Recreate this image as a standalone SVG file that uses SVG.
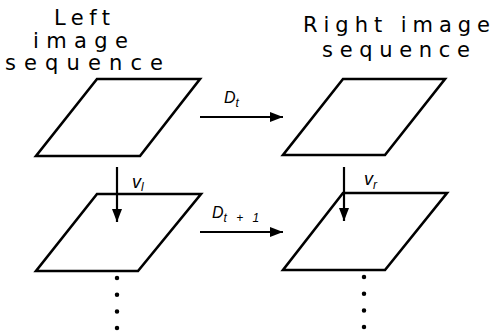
<svg xmlns="http://www.w3.org/2000/svg" width="493" height="333" viewBox="0 0 493 333">
<defs>
<style>
.frame{fill:none;stroke:#000;stroke-width:2.6;stroke-linejoin:miter}
.conn{fill:none;stroke:#000;stroke-width:2.2}
.dots{fill:none;stroke:#000;stroke-width:4.5;stroke-linecap:round;stroke-dasharray:0 16.7}
.title{font-family:"DejaVu Sans",Verdana,sans-serif;font-size:21px;fill:#000}
.lab{font-family:"Liberation Sans",Arial,sans-serif;font-style:italic;font-size:16px;fill:#000}
.vlab{font-family:"Liberation Sans",Arial,sans-serif;font-style:italic;font-size:18px;fill:#000}
.sub{font-family:"Liberation Sans",Arial,sans-serif;font-style:italic;font-size:12px;fill:#000}
</style>
<marker id="ah" viewBox="0 0 13 10" refX="13" refY="5" markerWidth="13" markerHeight="10" markerUnits="userSpaceOnUse" orient="auto">
<path d="M0,0 L13,5 L0,10 z" fill="#000"/>
</marker>
</defs>
<rect width="493" height="333" fill="#fff"/>
<g id="titles">
<text class="title" x="54" y="25" textLength="56" lengthAdjust="spacing">Left</text>
<text class="title" x="33" y="48" textLength="95" lengthAdjust="spacing">image</text>
<text class="title" x="5" y="70" textLength="158" lengthAdjust="spacing">sequence</text>
<text class="title" x="303" y="32" textLength="187" lengthAdjust="spacing">Right image</text>
<text class="title" x="322" y="57" textLength="148" lengthAdjust="spacing">sequence</text>
</g>
<g id="left-t">
<polygon class="frame" points="97,79 200,79 140,156 36,156"/>
</g>
<g id="right-t">
<polygon class="frame" points="343,79 445,79 385,155 283,155"/>
</g>
<g id="left-t1">
<polygon class="frame" points="97,194 201,194 138,271 36,271"/>
</g>
<g id="right-t1">
<polygon class="frame" points="343,193 447,193 385,270 283,270"/>
</g>
<g id="connectors">
<line class="conn" x1="200" y1="117" x2="283" y2="117" marker-end="url(#ah)"/>
<line class="conn" x1="200" y1="232" x2="283" y2="232" marker-end="url(#ah)"/>
<line class="conn" x1="117" y1="167" x2="117" y2="222" marker-end="url(#ah)"/>
<line class="conn" x1="344" y1="167" x2="344" y2="221" marker-end="url(#ah)"/>
<line class="dots" x1="117" y1="278" x2="117" y2="330"/>
<line class="dots" x1="364" y1="277" x2="364" y2="329"/>
</g>
<g id="labels">
<text class="lab" x="224" y="103">D<tspan class="sub" dy="4">t</tspan></text>
<text class="lab" x="212" y="218">D<tspan class="sub" dy="4" letter-spacing="3">t + 1</tspan></text>
<text class="vlab" x="132" y="188">v<tspan class="sub" dy="3">l</tspan></text>
<text class="vlab" x="364" y="185">v<tspan class="sub" dy="4">r</tspan></text>
</g>
</svg>
